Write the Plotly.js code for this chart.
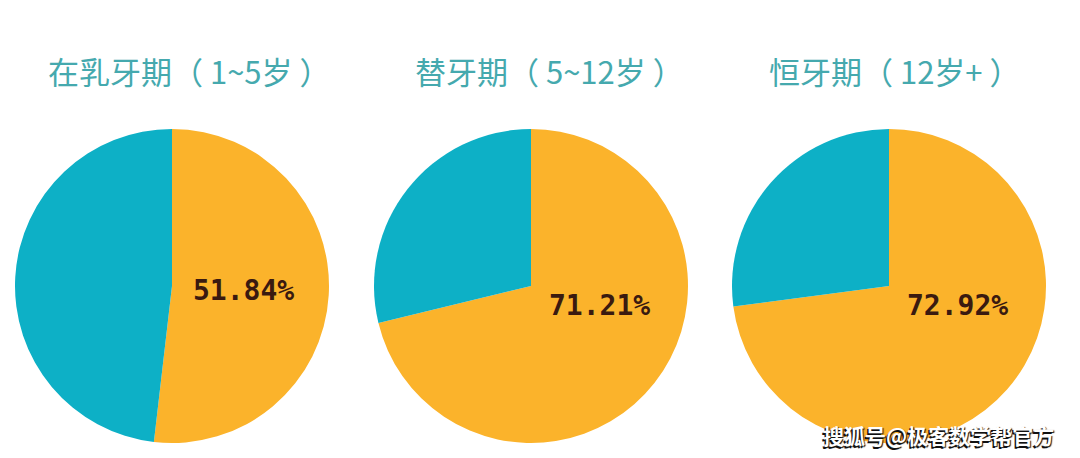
<!DOCTYPE html>
<html><head><meta charset="utf-8">
<script src="https://cdn.plot.ly/plotly-3.0.1.min.js"></script>
<style>html,body{margin:0;padding:0;background:#fff}#c{width:1080px;height:458px}</style></head>
<body><div id="c"></div>
<script>
const categories = ['是','否'];
const titles = ['在乳牙期（ 1~5岁 ）','替牙期（ 5~12岁 ）','恒牙期（ 12岁+ ）'];
const yesValues = [51.84, 71.21, 72.92];
const noValues = [48.16, 28.79, 27.08];
const pieColors = ['#FBB32B','#0DB0C6'];
const W = 1080, H = 458;
const boxes = [[15,329],[374,688],[732,1046]];
const labelPos = [[243.5,290],[599.5,305],[957.5,305]];
const titlePos = [[189,70],[549,70],[895,70]];
const data = yesValues.map((v,i)=>({
  type:'pie', labels:categories, values:[v,noValues[i]], sort:false, direction:'clockwise', rotation:0,
  marker:{colors:pieColors, line:{width:0}}, textinfo:'none', hoverinfo:'label+percent', showlegend:false,
  domain:{x:[boxes[i][0]/W,boxes[i][1]/W], y:[(H-443)/H,(H-129)/H]}
}));
const ann = [];
titles.forEach((t,i)=>ann.push({text:t,xref:'paper',yref:'paper',x:titlePos[i][0]/W,y:1-titlePos[i][1]/H,showarrow:false,
  font:{family:'"Noto Sans CJK SC"',size:31,color:'#45A9AE'},xanchor:'center',yanchor:'middle'}));
yesValues.forEach((v,i)=>ann.push({text:v.toFixed(2)+'%',xref:'paper',yref:'paper',x:labelPos[i][0]/W,y:1-labelPos[i][1]/H,showarrow:false,
  font:{family:'"DejaVu Sans Mono"',size:28,weight:700,color:'#3A1A10'},xanchor:'center',yanchor:'middle'}));
const wm='搜狐号@极客数学帮官方';
ann.push({text:wm,xref:'paper',yref:'paper',x:938/W,y:1-435/H,showarrow:false,
  font:{family:'"Noto Sans CJK SC"',size:21,weight:700,color:'#FFFFFF',shadow:'-1.5px 1.5px 0 #111, 1px 1px 1px #111'},xanchor:'center',yanchor:'middle'});
Plotly.newPlot('c',data,{width:W,height:H,margin:{l:0,r:0,t:0,b:0},paper_bgcolor:'#fff',annotations:ann},{displayModeBar:false});
</script></body></html>
